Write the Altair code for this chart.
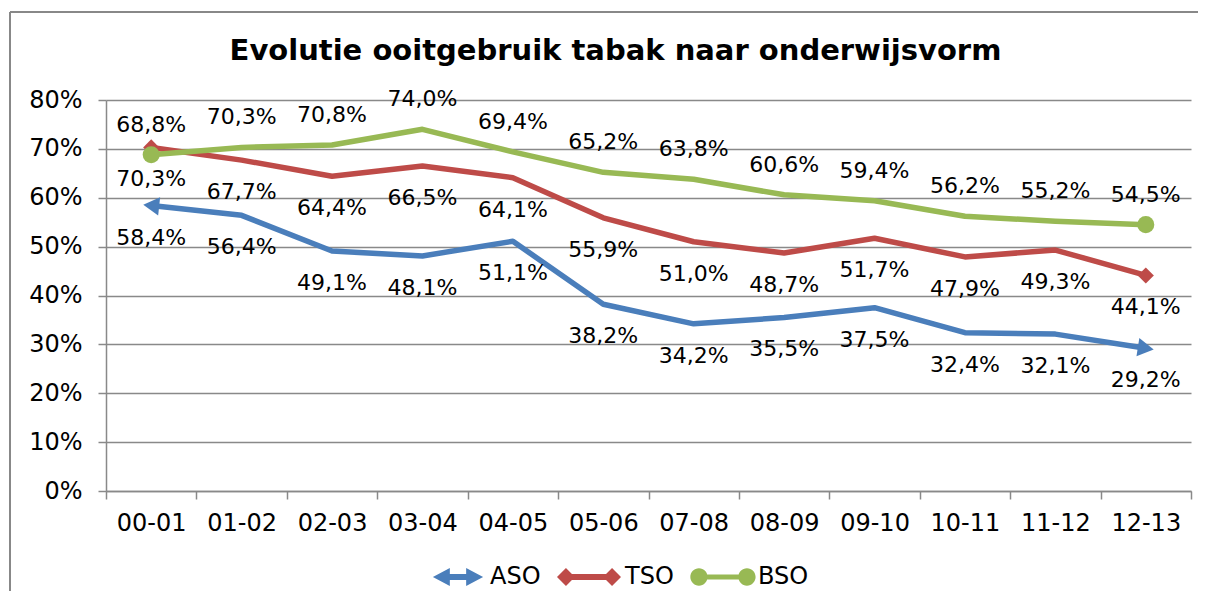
import math
import altair as alt
import pandas as pd

years = ["00-01", "01-02", "02-03", "03-04", "04-05", "05-06",
         "07-08", "08-09", "09-10", "10-11", "11-12", "12-13"]
series = ["ASO", "TSO", "BSO"]
aso = [58.4, 56.4, 49.1, 48.1, 51.1, 38.2, 34.2, 35.5, 37.5, 32.4, 32.1, 29.2]
tso = [70.3, 67.7, 64.4, 66.5, 64.1, 55.9, 51.0, 48.7, 51.7, 47.9, 49.3, 44.1]
bso = [68.8, 70.3, 70.8, 74.0, 69.4, 65.2, 63.8, 60.6, 59.4, 56.2, 55.2, 54.5]
colors = ["#4A7EBB", "#BE4B48", "#98B954"]
title_text = "Evolutie ooitgebruik tabak naar onderwijsvorm"

FONT = "DejaVu Sans"
GRAY = "#898989"
W, H = 1085, 391
band = W / len(years)
ppu = H / 0.8

rows = []
for s, vals in zip(series, [aso, tso, bso]):
    for i, (yr, v) in enumerate(zip(years, vals)):
        rows.append(dict(series=s, year=yr, pos=i + 0.5, value=v / 100,
                         label=f"{v:.1f}".replace(".", ",") + "%", order=i))
df = pd.DataFrame(rows)

color_scale = alt.Scale(domain=series, range=colors)
x_enc = alt.X("pos:Q", scale=alt.Scale(domain=[0, len(years)], nice=False, zero=False),
              title=None,
              axis=alt.Axis(values=[k / 2 for k in range(2 * len(years) + 1)],
                            labelExpr="datum.value % 1 == 0 ? '' : " + str(years) + "[floor(datum.value)]",
                            labelOverlap=False, labelFlush=False, grid=False,
                            tickOpacity={"condition": {"test": "datum.value % 1 != 0", "value": 0}, "value": 1},
                            tickSize=8, labelPadding=12))
y_enc = alt.Y("value:Q", scale=alt.Scale(domain=[0, 0.8], nice=False), title=None,
              axis=alt.Axis(values=[k / 10 for k in range(9)], format=".0%", tickSize=8,
                            labelPadding=16, grid=True))

base = alt.Chart(df)
first = "datum.order == 0"
last = f"datum.order == {len(years) - 1}"

def ang(d):
    return math.degrees(math.atan(d / 100 * ppu / band)) % 360

a_start = ang(aso[0] - aso[1])
a_end = ang(aso[-2] - aso[-1])

# legend symbol paths (unit box -1..1 -> 64 px)
p_aso = ("M -0.66 0 L -0.13 -0.28 L -0.13 -0.09 L 0.38 -0.09 L 0.38 -0.28 L 0.91 0 "
         "L 0.38 0.28 L 0.38 0.09 L -0.13 0.09 L -0.13 0.28 Z")
p_tso = ("M -0.78 -0.09 L 0.78 -0.09 L 0.78 0.09 L -0.78 0.09 Z "
         "M -1 0 L -0.72 -0.28 L -0.44 0 L -0.72 0.28 Z "
         "M 0.44 0 L 0.72 -0.28 L 1 0 L 0.72 0.28 Z")
p_bso = ("M -0.72 -0.08 L 0.78 -0.08 L 0.78 0.08 L -0.72 0.08 Z "
         "M -0.72 -0.27 A 0.27 0.27 0 1 1 -0.72 0.27 A 0.27 0.27 0 1 1 -0.72 -0.27 Z "
         "M 0.78 -0.27 A 0.27 0.27 0 1 1 0.78 0.27 A 0.27 0.27 0 1 1 0.78 -0.27 Z")

leg = alt.Legend(orient="none", legendX=316, legendY=445, direction="horizontal",
                 labelFontSize=24, labelFont=FONT, labelColor="black",
                 symbolSize=4096, labelOffset=4, columnPadding=16, padding=0,
                 symbolStrokeWidth=0, labelLimit=200, symbolOpacity=1)
legend_layer = base.mark_point(filled=True, opacity=1, size=0).encode(
    x=x_enc, y=y_enc,
    color=alt.Color("series:N", scale=color_scale, legend=leg, title=None),
    shape=alt.Shape("series:N", scale=alt.Scale(domain=series, range=[p_aso, p_tso, p_bso]),
                    legend=leg, title=None),
)

layers = []
border_top = alt.Chart(df).mark_rule(color=GRAY, strokeWidth=1.5).encode(
    x=alt.value(-96), x2=alt.value(W + 7), y=alt.value(-88))
border_left = alt.Chart(df).mark_rule(color=GRAY, strokeWidth=1.5).encode(
    x=alt.value(-96), y=alt.value(-88), y2=alt.value(H + 100))
layers += [border_top, border_left, legend_layer]

for s, c in zip(series, colors):
    layers.append(base.mark_line(strokeWidth=5.5, strokeJoin="round", color=c).encode(
        x=x_enc, y=y_enc, order="order:Q").transform_filter(f"datum.series == '{s}'"))

layers.append(base.mark_point(shape="triangle-left", angle=a_start, filled=True, opacity=1,
                              size=340, color=colors[0]).encode(x=x_enc, y=y_enc)
              .transform_filter(f"datum.series == 'ASO' && {first}"))
layers.append(base.mark_point(shape="triangle-right", angle=a_end, filled=True, opacity=1,
                              size=340, color=colors[0]).encode(x=x_enc, y=y_enc)
              .transform_filter(f"datum.series == 'ASO' && {last}"))
layers.append(base.mark_point(shape="diamond", filled=True, opacity=1, size=260,
                              color=colors[1]).encode(x=x_enc, y=y_enc)
              .transform_filter(f"datum.series == 'TSO' && ({first} || {last})"))
layers.append(base.mark_point(shape="circle", filled=True, opacity=1, size=290,
                              color=colors[2]).encode(x=x_enc, y=y_enc)
              .transform_filter(f"datum.series == 'BSO' && ({first} || {last})"))

layers.append(base.mark_text(fontSize=22, font=FONT, color="black", dy=32).encode(
    x=x_enc, y=y_enc, text="label:N").transform_filter("datum.series != 'BSO'"))
layers.append(base.mark_text(fontSize=22, font=FONT, color="black", dy=-30).encode(
    x=x_enc, y=y_enc, text="label:N").transform_filter("datum.series == 'BSO'"))

chart = alt.layer(*layers).properties(
    width=W, height=H,
    autosize=alt.AutoSizeParams(type="none"),
    padding={"left": 98, "top": 92, "right": 7, "bottom": 100},
    title=alt.TitleParams(text=title_text, font=FONT, fontSize=29, fontWeight="bold",
                          color="black", anchor="middle", dx=-33, offset=-55),
).configure_view(strokeWidth=0).configure_axis(
    labelFont=FONT, labelFontSize=24, labelColor="black",
    domainColor=GRAY, domainWidth=1.5, tickColor=GRAY, tickWidth=1.5,
    gridColor=GRAY, gridWidth=1.5,
)

chart.save("out.html", embed_options={"renderer": "svg", "actions": False})
